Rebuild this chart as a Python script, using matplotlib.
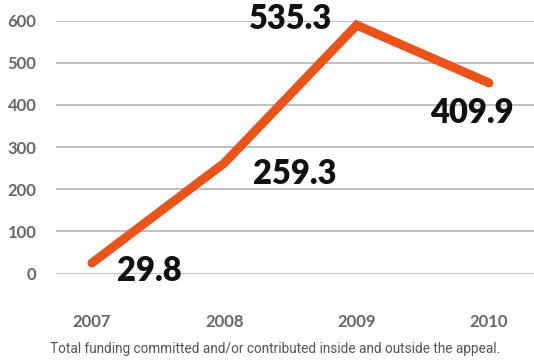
import matplotlib
matplotlib.use("Agg")
import matplotlib.pyplot as plt

# Datos
years = [2007, 2008, 2009, 2010]
line_values = [25, 262, 589, 452]          # posición de la línea en el gráfico
value_labels = ["29.8", "259.3", "535.3", "409.9"]
y_ticks = [0, 100, 200, 300, 400, 500, 600]
caption = "Total funding committed and/or contributed inside and outside the appeal."

line_color = "#E8541A"
tick_color = "#666666"

fig = plt.figure(figsize=(5.34, 3.6), dpi=100)
ax = fig.add_axes([56 / 534, (360 - 273.5) / 360, 1 - 56 / 534, 253 / 360])

ax.set_ylim(0, 600)
ax.set_xlim(2006.728, 2010.34)
ax.set_yticks(y_ticks)
ax.set_xticks(years)
ax.set_yticklabels([str(t) for t in y_ticks], fontsize=12, fontweight="bold",
                   color=tick_color, family="Lato")
ax.set_xticklabels([str(y) for y in years], fontsize=12, fontweight="bold",
                   color=tick_color, family="Lato")
ax.tick_params(axis="y", length=0, pad=14)
ax.tick_params(axis="x", length=0, pad=29)

ax.grid(axis="y", color="#bbbbbb", linewidth=1.3)
ax.set_axisbelow(True)
for s in ax.spines.values():
    s.set_visible(False)

ax.plot(years, line_values, color=line_color, linewidth=6.5,
        solid_capstyle="round", solid_joinstyle="miter", clip_on=False, zorder=3)

# posiciones de las etiquetas de valor
label_x = [2007.43, 2008.53, 2008.5, 2009.87]
label_y = [5, 235, 604, 380]
for x, yv, txt in zip(label_x, label_y, value_labels):
    ax.text(x, yv, txt, fontsize=23.5, fontweight="heavy", color="#111111",
            family="Lato", ha="center", va="center", clip_on=False)

fig.text(275 / 534, 1 - 349 / 360, caption, fontsize=9.8, color="#555555",
         ha="center", va="center", family="Roboto")

fig.savefig("out.png", dpi=100)
